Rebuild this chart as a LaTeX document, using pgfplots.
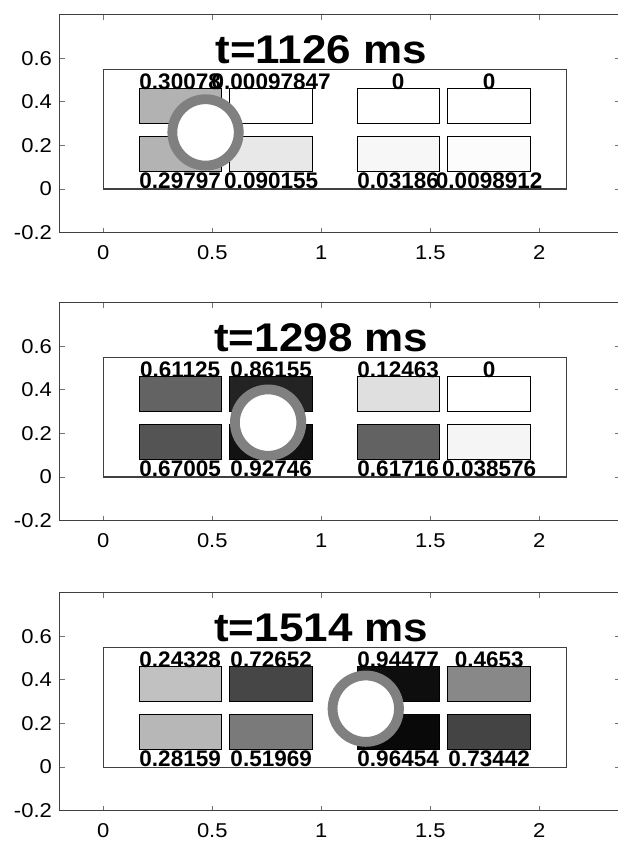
\documentclass[border=0pt]{standalone}
\usepackage{pgfplots}
\pgfplotsset{compat=1.18}
\usepackage{fontspec}
\setmainfont{Liberation Sans}
\definecolor{ringc}{gray}{0.5}
\definecolor{axc}{gray}{0.25}
\pgfplotsset{
  panel/.style={
    scale only axis, width=280.13pt, height=109pt, anchor=south west,
    xmin=-0.2, xmax=2.37, ymin=-0.2, ymax=0.8,
    xtick={0,0.5,1,1.5,2}, ytick={-0.2,0,0.2,0.4,0.6},
    xticklabels={0,0.5,1,1.5,2}, yticklabels={-0.2,0,0.2,0.4,0.6},
    axis line style={draw=axc, line width=0.6pt},
    major tick length=2.5pt, tick align=inside,
    every tick/.style={draw=black!55, line width=0.5pt},
    xticklabel style={anchor=north, inner sep=0pt, yshift=-6.2pt, font=\fontsize{10}{10}\selectfont, xscale=1.1},
    yticklabel style={anchor=east, inner sep=0pt, xshift=-3.7pt, font=\fontsize{10}{10}\selectfont, xscale=1.1},
    clip=false,
  },
  lab/.style={draw=none, mark=none, point meta=explicit symbolic, nodes near coords,
    nodes near coords style={anchor=base, inner sep=0pt, font=\fontsize{11.25}{11.25}\bfseries\selectfont}},
  ttl/.style={draw=none, mark=none, point meta=explicit symbolic, nodes near coords,
    nodes near coords style={anchor=base, inner sep=0pt, xscale=1.1, font=\fontsize{20}{20}\bfseries\selectfont}},
  outer/.style={draw=axc, line width=0.6pt},
  cell/.style={draw=black, line width=0.5pt, fill=black!#1},
  ring/.style={only marks, mark=*, mark size=16.6pt, mark options={draw=ringc, fill=white, line width=4.9pt}},
}
\begin{document}
\begin{tikzpicture}
% ---------------- panel 1 ----------------
\begin{axis}[panel, at={(29.85pt,304.15pt)}]
\addplot[outer] coordinates {(0,0) (2.125,0) (2.125,0.55) (0,0.55) (0,0)};
\addplot[cell=30.078] coordinates {(0.165,0.30) (0.54,0.30) (0.54,0.46) (0.165,0.46) (0.165,0.30)};
\addplot[cell=0.098] coordinates {(0.58,0.30) (0.96,0.30) (0.96,0.46) (0.58,0.46) (0.58,0.30)};
\addplot[cell=0] coordinates {(1.165,0.30) (1.54,0.30) (1.54,0.46) (1.165,0.46) (1.165,0.30)};
\addplot[cell=0] coordinates {(1.58,0.30) (1.96,0.30) (1.96,0.46) (1.58,0.46) (1.58,0.30)};
\addplot[cell=29.797] coordinates {(0.165,0.08) (0.54,0.08) (0.54,0.24) (0.165,0.24) (0.165,0.08)};
\addplot[cell=9.0155] coordinates {(0.58,0.08) (0.96,0.08) (0.96,0.24) (0.58,0.24) (0.58,0.08)};
\addplot[cell=3.186] coordinates {(1.165,0.08) (1.54,0.08) (1.54,0.24) (1.165,0.24) (1.165,0.08)};
\addplot[cell=0.98912] coordinates {(1.58,0.08) (1.96,0.08) (1.96,0.24) (1.58,0.24) (1.58,0.08)};
\addplot[ring] coordinates {(0.469,0.26)};
\addplot[lab] coordinates {(0.3525,0.458) [0.30078] (0.77,0.458) [0.00097847] (1.3525,0.458) [0] (1.77,0.458) [0]
  (0.3525,0.005) [0.29797] (0.77,0.005) [0.090155] (1.3525,0.005) [0.03186] (1.77,0.005) [0.0098912]};
\addplot[ttl] coordinates {(1.0,0.578) [t=1126 ms]};
\end{axis}
% ---------------- panel 2 ----------------
\begin{axis}[panel, at={(29.85pt,160.15pt)}]
\addplot[outer] coordinates {(0,0) (2.125,0) (2.125,0.55) (0,0.55) (0,0)};
\addplot[cell=61.125] coordinates {(0.165,0.30) (0.54,0.30) (0.54,0.46) (0.165,0.46) (0.165,0.30)};
\addplot[cell=86.155] coordinates {(0.58,0.30) (0.96,0.30) (0.96,0.46) (0.58,0.46) (0.58,0.30)};
\addplot[cell=12.463] coordinates {(1.165,0.30) (1.54,0.30) (1.54,0.46) (1.165,0.46) (1.165,0.30)};
\addplot[cell=0] coordinates {(1.58,0.30) (1.96,0.30) (1.96,0.46) (1.58,0.46) (1.58,0.30)};
\addplot[cell=67.005] coordinates {(0.165,0.08) (0.54,0.08) (0.54,0.24) (0.165,0.24) (0.165,0.08)};
\addplot[cell=92.746] coordinates {(0.58,0.08) (0.96,0.08) (0.96,0.24) (0.58,0.24) (0.58,0.08)};
\addplot[cell=61.716] coordinates {(1.165,0.08) (1.54,0.08) (1.54,0.24) (1.165,0.24) (1.165,0.08)};
\addplot[cell=3.8576] coordinates {(1.58,0.08) (1.96,0.08) (1.96,0.24) (1.58,0.24) (1.58,0.08)};
\addplot[ring] coordinates {(0.756,0.25)};
\addplot[lab] coordinates {(0.3525,0.458) [0.61125] (0.77,0.458) [0.86155] (1.3525,0.458) [0.12463] (1.77,0.458) [0]
  (0.3525,0.005) [0.67005] (0.77,0.005) [0.92746] (1.3525,0.005) [0.61716] (1.77,0.005) [0.038576]};
\addplot[ttl] coordinates {(1.0,0.578) [t=1298 ms]};
\end{axis}
% ---------------- panel 3 ----------------
\begin{axis}[panel, at={(29.85pt,15.15pt)}]
\addplot[outer] coordinates {(0,0) (2.125,0) (2.125,0.55) (0,0.55) (0,0)};
\addplot[cell=24.328] coordinates {(0.165,0.30) (0.54,0.30) (0.54,0.46) (0.165,0.46) (0.165,0.30)};
\addplot[cell=72.652] coordinates {(0.58,0.30) (0.96,0.30) (0.96,0.46) (0.58,0.46) (0.58,0.30)};
\addplot[cell=94.477] coordinates {(1.165,0.30) (1.54,0.30) (1.54,0.46) (1.165,0.46) (1.165,0.30)};
\addplot[cell=46.53] coordinates {(1.58,0.30) (1.96,0.30) (1.96,0.46) (1.58,0.46) (1.58,0.30)};
\addplot[cell=28.159] coordinates {(0.165,0.08) (0.54,0.08) (0.54,0.24) (0.165,0.24) (0.165,0.08)};
\addplot[cell=51.969] coordinates {(0.58,0.08) (0.96,0.08) (0.96,0.24) (0.58,0.24) (0.58,0.08)};
\addplot[cell=96.454] coordinates {(1.165,0.08) (1.54,0.08) (1.54,0.24) (1.165,0.24) (1.165,0.08)};
\addplot[cell=73.442] coordinates {(1.58,0.08) (1.96,0.08) (1.96,0.24) (1.58,0.24) (1.58,0.08)};
\addplot[ring] coordinates {(1.204,0.268)};
\addplot[lab] coordinates {(0.3525,0.458) [0.24328] (0.77,0.458) [0.72652] (1.3525,0.458) [0.94477] (1.77,0.458) [0.4653]
  (0.3525,0.005) [0.28159] (0.77,0.005) [0.51969] (1.3525,0.005) [0.96454] (1.77,0.005) [0.73442]};
\addplot[ttl] coordinates {(1.0,0.578) [t=1514 ms]};
\end{axis}
\pgfresetboundingbox
\path[use as bounding box] (0,0) rectangle (308.5pt,420.5pt);
\end{tikzpicture}
\end{document}
